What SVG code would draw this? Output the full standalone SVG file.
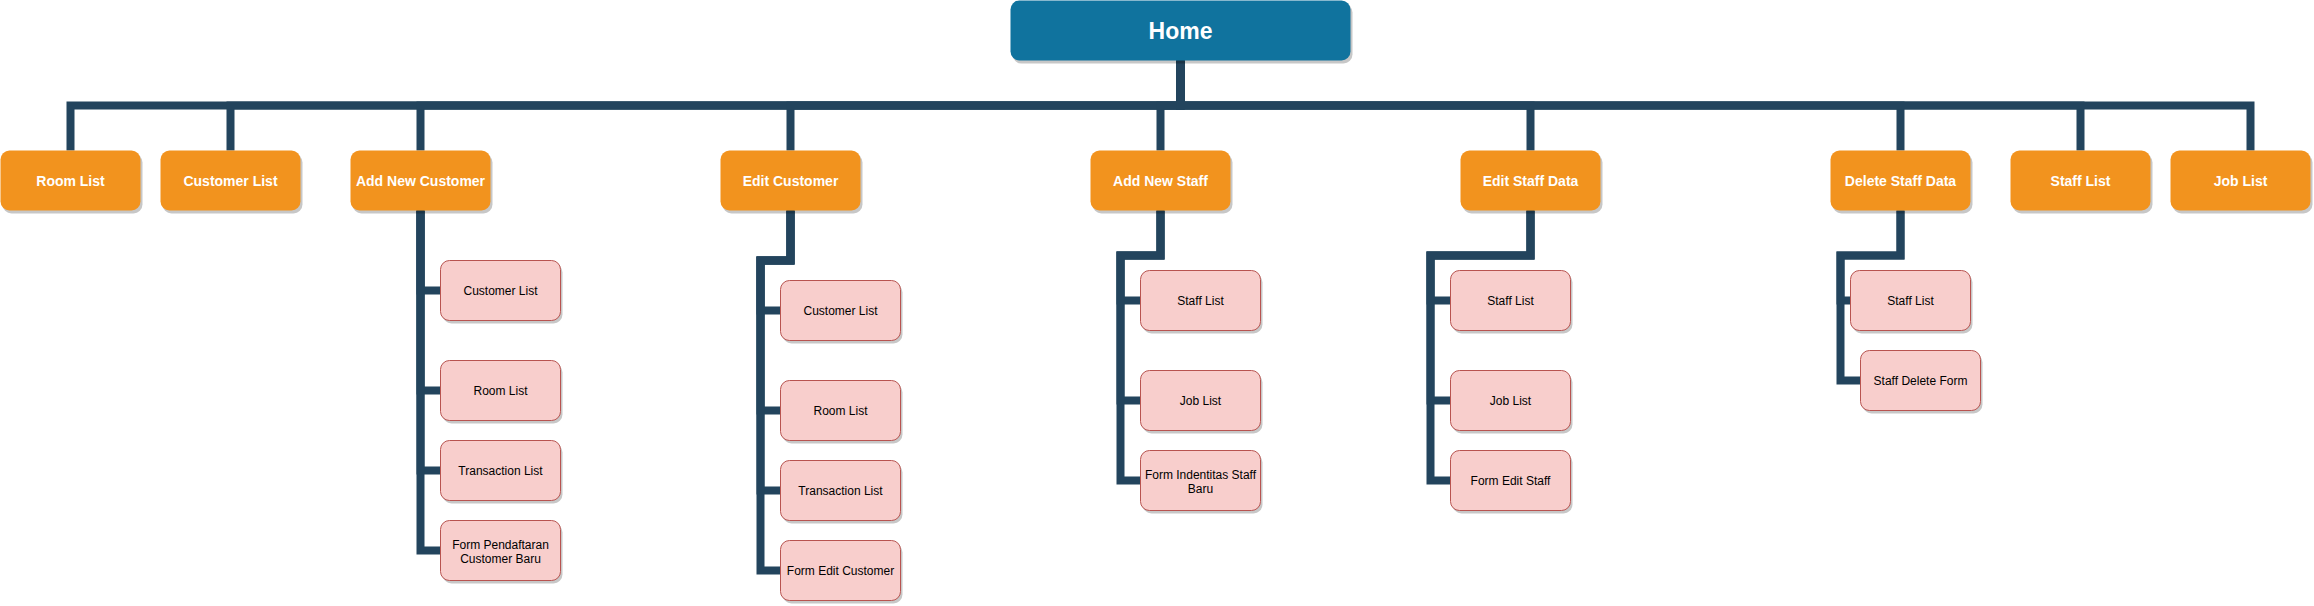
<svg xmlns="http://www.w3.org/2000/svg" width="2314" height="606" viewBox="0 0 2314 606">
<style>
.edge{fill:none;stroke:#23445D;stroke-width:8;stroke-linejoin:miter;stroke-linecap:butt}
.shadow{fill:#000;fill-opacity:0.22}
.home{fill:#10739E}
.top{fill:#F2931E}
.sub{fill:#F8CECC;stroke:#B85450;stroke-width:1}
.th{font-family:"Liberation Sans",Arial,sans-serif;font-weight:bold;font-size:23px;fill:#fff;text-anchor:middle}
.tt{font-family:"Liberation Sans",Arial,sans-serif;font-weight:bold;font-size:14px;fill:#fff;text-anchor:middle}
.ts{font-family:"Liberation Sans",Arial,sans-serif;font-size:12px;fill:#000;text-anchor:middle}
</style>
<rect width="2314" height="606" fill="#fff"/>
<g transform="translate(0.5,0.5)">
<g id="connectors">
<path class="edge" d="M1180 60 V105 H70 V150"/>
<path class="edge" d="M1180 60 V105 H230 V150"/>
<path class="edge" d="M1180 60 V105 H420 V150"/>
<path class="edge" d="M1180 60 V105 H790 V150"/>
<path class="edge" d="M1180 60 V105 H1160 V150"/>
<path class="edge" d="M1180 60 V105 H1530 V150"/>
<path class="edge" d="M1180 60 V105 H1900 V150"/>
<path class="edge" d="M1180 60 V105 H2080 V150"/>
<path class="edge" d="M1180 60 V105 H2250 V150"/>
<path class="edge" d="M420 210 V290 H440"/>
<path class="edge" d="M420 210 V390 H440"/>
<path class="edge" d="M420 210 V470 H440"/>
<path class="edge" d="M420 210 V550 H440"/>
<path class="edge" d="M790 210 V260 H760 V310 H780"/>
<path class="edge" d="M790 210 V260 H760 V410 H780"/>
<path class="edge" d="M790 210 V260 H760 V490 H780"/>
<path class="edge" d="M790 210 V260 H760 V570 H780"/>
<path class="edge" d="M1160 210 V255 H1120 V300 H1140"/>
<path class="edge" d="M1160 210 V255 H1120 V400 H1140"/>
<path class="edge" d="M1160 210 V255 H1120 V480 H1140"/>
<path class="edge" d="M1530 210 V255 H1430 V300 H1450"/>
<path class="edge" d="M1530 210 V255 H1430 V400 H1450"/>
<path class="edge" d="M1530 210 V255 H1430 V480 H1450"/>
<path class="edge" d="M1900 210 V255 H1840 V300 H1850"/>
<path class="edge" d="M1900 210 V255 H1840 V380 H1860"/>
</g>
<g id="home"><rect class="shadow" x="1012" y="3" width="340" height="60" rx="9"/><rect class="home" x="1010" y="0" width="340" height="60" rx="9"/><text class="th" x="1180" y="38">Home</text></g>
<g id="room-list"><rect class="shadow" x="2" y="153" width="140" height="60" rx="9"/><rect class="top" x="0" y="150" width="140" height="60" rx="9"/><text class="tt" x="70" y="185">Room List</text></g>
<g id="customer-list"><rect class="shadow" x="162" y="153" width="140" height="60" rx="9"/><rect class="top" x="160" y="150" width="140" height="60" rx="9"/><text class="tt" x="230" y="185">Customer List</text></g>
<g id="add-new-customer"><rect class="shadow" x="352" y="153" width="140" height="60" rx="9"/><rect class="top" x="350" y="150" width="140" height="60" rx="9"/><text class="tt" x="420" y="185">Add New Customer</text></g>
<g id="edit-customer"><rect class="shadow" x="722" y="153" width="140" height="60" rx="9"/><rect class="top" x="720" y="150" width="140" height="60" rx="9"/><text class="tt" x="790" y="185">Edit Customer</text></g>
<g id="add-new-staff"><rect class="shadow" x="1092" y="153" width="140" height="60" rx="9"/><rect class="top" x="1090" y="150" width="140" height="60" rx="9"/><text class="tt" x="1160" y="185">Add New Staff</text></g>
<g id="edit-staff-data"><rect class="shadow" x="1462" y="153" width="140" height="60" rx="9"/><rect class="top" x="1460" y="150" width="140" height="60" rx="9"/><text class="tt" x="1530" y="185">Edit Staff Data</text></g>
<g id="delete-staff-data"><rect class="shadow" x="1832" y="153" width="140" height="60" rx="9"/><rect class="top" x="1830" y="150" width="140" height="60" rx="9"/><text class="tt" x="1900" y="185">Delete Staff Data</text></g>
<g id="staff-list"><rect class="shadow" x="2012" y="153" width="140" height="60" rx="9"/><rect class="top" x="2010" y="150" width="140" height="60" rx="9"/><text class="tt" x="2080" y="185">Staff List</text></g>
<g id="job-list"><rect class="shadow" x="2172" y="153" width="140" height="60" rx="9"/><rect class="top" x="2170" y="150" width="140" height="60" rx="9"/><text class="tt" x="2240" y="185">Job List</text></g>

<g id="anc-customer-list"><rect class="shadow" x="442" y="263" width="120" height="60" rx="9"/><rect class="sub" x="440" y="260" width="120" height="60" rx="9"/><text class="ts" x="500" y="294.5">Customer List</text></g>
<g id="anc-room-list"><rect class="shadow" x="442" y="363" width="120" height="60" rx="9"/><rect class="sub" x="440" y="360" width="120" height="60" rx="9"/><text class="ts" x="500" y="394.5">Room List</text></g>
<g id="anc-transaction-list"><rect class="shadow" x="442" y="443" width="120" height="60" rx="9"/><rect class="sub" x="440" y="440" width="120" height="60" rx="9"/><text class="ts" x="500" y="474.5">Transaction List</text></g>
<g id="anc-form"><rect class="shadow" x="442" y="523" width="120" height="60" rx="9"/><rect class="sub" x="440" y="520" width="120" height="60" rx="9"/><text class="ts" x="500" y="548">Form Pendaftaran</text><text class="ts" x="500" y="562">Customer Baru</text></g>

<g id="ec-customer-list"><rect class="shadow" x="782" y="283" width="120" height="60" rx="9"/><rect class="sub" x="780" y="280" width="120" height="60" rx="9"/><text class="ts" x="840" y="314.5">Customer List</text></g>
<g id="ec-room-list"><rect class="shadow" x="782" y="383" width="120" height="60" rx="9"/><rect class="sub" x="780" y="380" width="120" height="60" rx="9"/><text class="ts" x="840" y="414.5">Room List</text></g>
<g id="ec-transaction-list"><rect class="shadow" x="782" y="463" width="120" height="60" rx="9"/><rect class="sub" x="780" y="460" width="120" height="60" rx="9"/><text class="ts" x="840" y="494.5">Transaction List</text></g>
<g id="ec-form"><rect class="shadow" x="782" y="543" width="120" height="60" rx="9"/><rect class="sub" x="780" y="540" width="120" height="60" rx="9"/><text class="ts" x="840" y="574.5">Form Edit Customer</text></g>

<g id="ans-staff-list"><rect class="shadow" x="1142" y="273" width="120" height="60" rx="9"/><rect class="sub" x="1140" y="270" width="120" height="60" rx="9"/><text class="ts" x="1200" y="304.5">Staff List</text></g>
<g id="ans-job-list"><rect class="shadow" x="1142" y="373" width="120" height="60" rx="9"/><rect class="sub" x="1140" y="370" width="120" height="60" rx="9"/><text class="ts" x="1200" y="404.5">Job List</text></g>
<g id="ans-form"><rect class="shadow" x="1142" y="453" width="120" height="60" rx="9"/><rect class="sub" x="1140" y="450" width="120" height="60" rx="9"/><text class="ts" x="1200" y="478">Form Indentitas Staff</text><text class="ts" x="1200" y="492">Baru</text></g>

<g id="esd-staff-list"><rect class="shadow" x="1452" y="273" width="120" height="60" rx="9"/><rect class="sub" x="1450" y="270" width="120" height="60" rx="9"/><text class="ts" x="1510" y="304.5">Staff List</text></g>
<g id="esd-job-list"><rect class="shadow" x="1452" y="373" width="120" height="60" rx="9"/><rect class="sub" x="1450" y="370" width="120" height="60" rx="9"/><text class="ts" x="1510" y="404.5">Job List</text></g>
<g id="esd-form"><rect class="shadow" x="1452" y="453" width="120" height="60" rx="9"/><rect class="sub" x="1450" y="450" width="120" height="60" rx="9"/><text class="ts" x="1510" y="484.5">Form Edit Staff</text></g>

<g id="dsd-staff-list"><rect class="shadow" x="1852" y="273" width="120" height="60" rx="9"/><rect class="sub" x="1850" y="270" width="120" height="60" rx="9"/><text class="ts" x="1910" y="304.5">Staff List</text></g>
<g id="dsd-form"><rect class="shadow" x="1862" y="353" width="120" height="60" rx="9"/><rect class="sub" x="1860" y="350" width="120" height="60" rx="9"/><text class="ts" x="1920" y="384.5">Staff Delete Form</text></g>
</g>
</svg>
